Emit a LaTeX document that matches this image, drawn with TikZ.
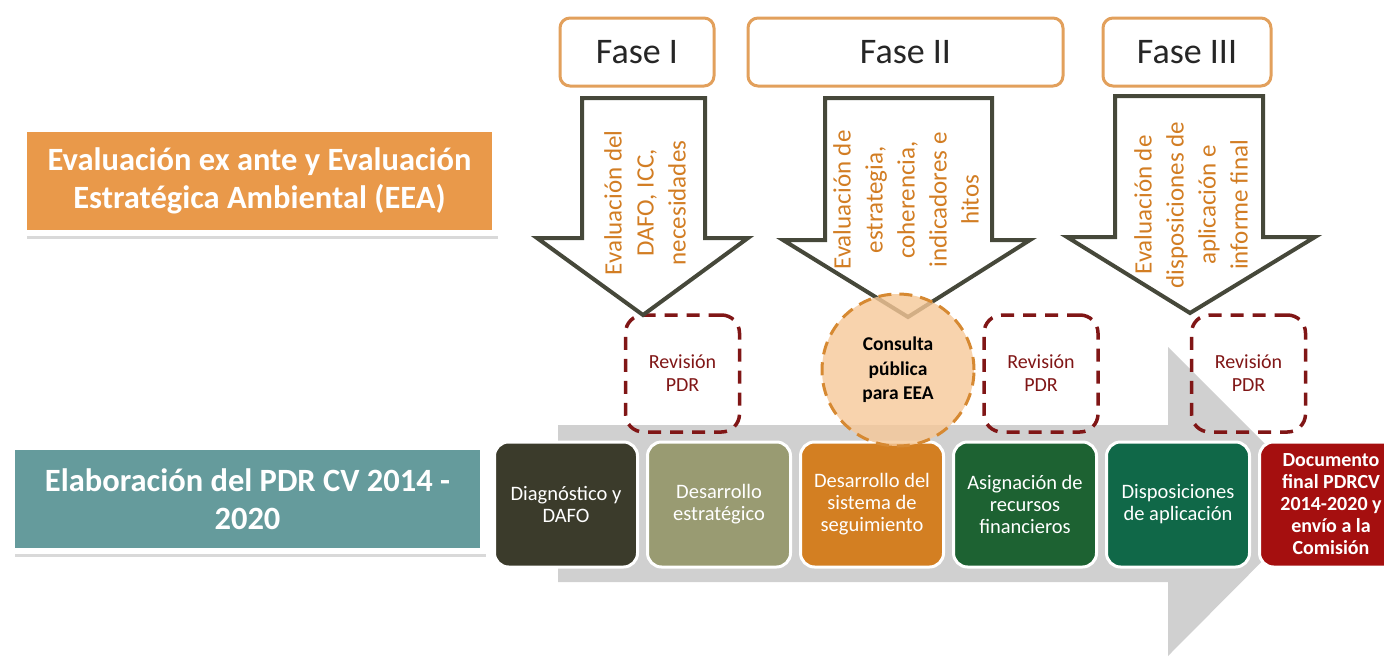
\documentclass[tikz,border=0pt]{standalone}
\usepackage{fontspec}
\setmainfont{Carlito}
\usetikzlibrary{arrows.meta,positioning,shadows}
\definecolor{flowgray}{RGB}{208,208,208}
\definecolor{eeaorange}{RGB}{233,153,74}
\definecolor{pdrteal}{RGB}{101,155,156}
\definecolor{phaseorange}{RGB}{226,160,92}
\definecolor{evalorange}{RGB}{210,125,35}
\definecolor{arrowolive}{RGB}{70,72,58}
\definecolor{revred}{RGB}{128,22,22}
\definecolor{consultfill}{RGB}{246,200,152}
\definecolor{consultline}{RGB}{214,137,50}
\definecolor{diagcol}{RGB}{59,59,43}
\definecolor{estrcol}{RGB}{153,155,114}
\definecolor{seguicol}{RGB}{211,127,34}
\definecolor{recurcol}{RGB}{29,98,50}
\definecolor{dispocol}{RGB}{16,104,72}
\definecolor{finalcol}{RGB}{165,15,15}
\tikzset{
  >=Stealth,
  rowtitle/.style  = {rectangle, draw=white, line width=6pt, minimum width=471pt, minimum height=104pt, align=center, text=white, font=\fontsize{32.5}{37.5}\selectfont\bfseries, drop shadow={shadow xshift=3pt, shadow yshift=-6pt, opacity=0.3}},
  phase/.style     = {rectangle, rounded corners=10pt, draw=phaseorange, line width=3pt, fill=white, minimum height=68pt, text=black!85, font=\fontsize{36}{38}\selectfont},
  evaltext/.style  = {rotate=90, align=center, text=evalorange, font=\fontsize{25}{32}\selectfont},
  bigarrow/.style  = {draw=arrowolive, line width=4pt, fill=white, line join=miter},
  revision/.style  = {rectangle, rounded corners=18pt, draw=revred, dash pattern=on 13pt off 9pt, line width=3.5pt, minimum width=114pt, minimum height=117pt, align=center, text=revred, font=\fontsize{20}{23}\selectfont},
  consult/.style   = {circle, draw=consultline, dash pattern=on 13pt off 8pt, line width=3pt, fill=consultfill, fill opacity=0.8, text opacity=1, minimum size=152pt, inner sep=0pt, align=center, font=\fontsize{19.5}{24.5}\selectfont\bfseries},
  stepbox/.style   = {rectangle, rounded corners=14pt, draw=white, line width=3pt, minimum width=143pt, minimum height=125pt, inner sep=2pt, align=center, text=white, font=\fontsize{20.5}{22}\selectfont}
}
\begin{document}
\begin{tikzpicture}[x=1pt, y=-1pt, node distance=7pt]
\useasboundingbox (0,0) rectangle (1384,656);

% Process arrow
\fill[flowgray] (558,425) -- (1168,425) -- (1168,347) -- (1322,501) -- (1168,656) -- (1168,582) -- (558,582) -- cycle;

% Row titles
\node[rowtitle, fill=eeaorange] (eea) at (259.5,181) {Evaluación ex ante y Evaluación\\Estratégica Ambiental (EEA)};
\node[rowtitle, fill=pdrteal] (pdr) at (247.5,499) {Elaboración del PDR CV 2014 -\\2020};

% Steps
\node[stepbox, fill=diagcol] (diag) at (566,504.5) {Diagnóstico y\\DAFO};
\node[stepbox, fill=estrcol, right=of diag] (estr) {Desarrollo\\estratégico};
\node[stepbox, fill=seguicol, right=of estr] (segui) {Desarrollo del\\sistema de\\seguimiento};
\node[stepbox, fill=recurcol, right=of segui] (recur) {Asignación de\\recursos\\financieros};
\node[stepbox, fill=dispocol, right=of recur] (dispo) {Disposiciones\\de aplicación};
\node[stepbox, fill=finalcol, right=of dispo, font=\fontsize{20}{22}\selectfont\bfseries] (final) {Documento\\final PDRCV\\2014-2020 y\\envío a la\\Comisión};

% Reviews
\node[revision] (rev1) at (682.5,373.5) {Revisión\\PDR};
\node[revision] (rev2) at (1041,373.5) {Revisión\\PDR};
\node[revision] (rev3) at (1248.5,373.5) {Revisión\\PDR};

% Phases
\node[phase, minimum width=154pt] (fase1) at (637,52) {Fase I};
\node[phase, minimum width=315pt] (fase2) at (905.5,52) {Fase II};
\node[phase, minimum width=168pt] (fase3) at (1187,52) {Fase III};

% Evaluation arrows
\draw[bigarrow] (582,98) -- (705,98) -- (705,238) -- (748,238) -- (643,315) -- (537,238) -- (582,238) -- cycle;
\draw[bigarrow] (825,98) -- (992,98) -- (992,240) -- (1030,240) -- (908,317) -- (783,240) -- (825,240) -- cycle;
\draw[bigarrow] (1115,96) -- (1263,96) -- (1263,237) -- (1315,237) -- (1190,313) -- (1067,237) -- (1115,237) -- cycle;

\node[evaltext] (eval1) at (645,203) {Evaluación del\\DAFO, ICC,\\necesidades};
\node[evaltext] (eval2) at (906,200) {Evaluación de\\estrategia,\\coherencia,\\indicadores e\\hitos};
\node[evaltext] (eval3) at (1191,205) {Evaluación de\\disposiciones de\\aplicación e\\informe final};

% Public consultation
\node[consult] (consulta) at (898,370) {Consulta\\pública\\para EEA};

\end{tikzpicture}
\end{document}
